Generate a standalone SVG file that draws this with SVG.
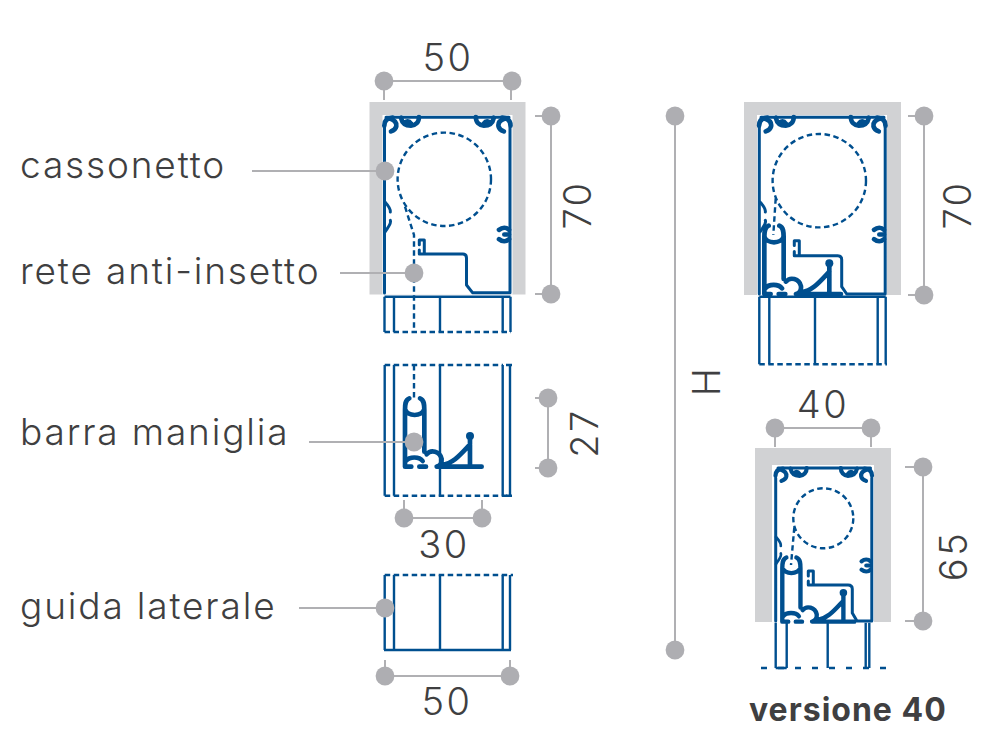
<svg xmlns="http://www.w3.org/2000/svg" xmlns:xlink="http://www.w3.org/1999/xlink" width="1000" height="753" viewBox="0 0 1000 753">
<style>
.t{font-family:"Inter","Liberation Sans",sans-serif;font-weight:300;fill:#3f3f41}
.lab{font-size:37px;letter-spacing:1.85px}
.num{font-size:38px;text-anchor:middle;letter-spacing:2.5px}
.ttl{font-family:"Inter","Liberation Sans",sans-serif;font-weight:700;font-size:32px;fill:#3f3f41;letter-spacing:1px}
.g{fill:#d1d2d4}.w{fill:#fff}
.dim{stroke:#b0b0b3;stroke-width:2;fill:none}
.dot{fill:#aeaeb2}
.b{stroke:#004f8f;stroke-width:3;fill:none;stroke-linejoin:round;stroke-linecap:round}
.bt{stroke:#004f8f;stroke-width:2.400;fill:none;stroke-linecap:butt}
.d{stroke:#004f8f;stroke-width:2.400;fill:none;stroke-dasharray:5.500 3.500}
.z{stroke:#004f8f;stroke-width:14;fill:none;stroke-linejoin:round;stroke-linecap:round}
.zf{fill:#004f8f}
</style>
<defs>
<g id="clip" class="z">
<path d="M0 26C0 10 8 3 25 2M14 4C28 8 38 16 36 28C34 36 28 40 20 43"/>
<path d="M50 2C53 16 62 26 80 26C94 25 104 16 104 0M66 14C72 12 76 14 80 20"/>
</g>
<g id="cclip" class="z">
<path d="M0 -14C-8 -22 -20 -22 -30 -14M0 14C-8 22 -20 22 -30 14M0 0H-14"/>
</g>
<g id="bump" class="z" style="stroke-width:9">
<path d="M0 0C9 10 18 20 16 30M0 90C9 75 20 65 16 55"/>
</g>
<g id="handle">
<path class="z" d="M118 130C105 135 105 150 105 165V335M150 130C163 135 163 150 163 165V290M105 162C112 186 156 186 163 162M105 335H124M108 318C118 304 148 304 158 318M148 335H168M170 298C182 283 210 288 215 312C216 325 210 333 200 335H335M215 330C250 325 270 300 300 268M300 245V335"/>
<circle class="zf" cx="300" cy="243" r="12"/>
</g>
</defs>

<g id="cassonetto-50">
<rect class="g" x="369.500" y="102" width="156" height="192.500"/>
<rect class="w" x="382.500" y="115" width="130" height="179.500"/>
<path class="b" d="M384.500 127V293M386 117.300H509M510 127V292.700H472.500L466.500 285V258Q466.500 254 463 254H419.300V250M424.300 254V240H419.300V244.700"/>
<use href="#clip" transform="translate(384.300,117) scale(.3333)"/>
<use href="#clip" transform="translate(510.500,117) scale(-.3333,.3333)"/>
<use href="#cclip" transform="translate(509,234.500) scale(.3333)"/>
<use href="#bump" transform="translate(385,202) scale(.3333)"/>
<circle class="d" cx="444.300" cy="179.300" r="46.700"/>
<path class="d" d="M405 206.700L414 235V332"/>
</g>

<g id="guida-cassonetto">
<path class="bt" d="M384.500 296.700H510.500M384.500 296.700V332M394 296.700V332M440 296.700V332M502.700 296.700V332M510.500 296.700V332"/>
<path class="d" d="M384.500 332H511"/>
</g>

<g id="barra-maniglia">
<path class="bt" d="M384.700 365V495.700M394 365V495.700M440 365V495.700M502.700 365V495.700M510 365V495.700"/>
<path class="d" d="M384.700 365H503M384.700 495.700H510M414 365V398"/>
<path class="bt" d="M506 365H512M506 495.700H512"/>
<use href="#handle" transform="translate(370,355) scale(.3333)"/>
</g>

<g id="guida-laterale">
<path class="bt" d="M384.700 575V650M394 575V650M440 575V650M502.700 575V650M510 575V650M384 650H511"/>
<path class="d" d="M384.700 575H513"/>
</g>

<g id="cassonetto-70">
<rect class="g" x="744" y="102" width="157" height="193"/>
<rect class="w" x="757" y="115" width="130" height="180"/>
<path class="b" d="M759.300 127V294M761 117.300H884M885.200 127V294H846.700L841.700 286.700V259.700Q841.700 255.700 837.700 255.700H794.300V251.500M799.300 255.700V240.700H794.300V245.500"/>
<use href="#clip" transform="translate(759.100,117) scale(.3333)"/>
<use href="#clip" transform="translate(885.500,117) scale(-.3333,.3333)"/>
<use href="#cclip" transform="translate(884,234.500) scale(.3333)"/>
<use href="#bump" transform="translate(760,202) scale(.3333)"/>
<circle class="d" cx="819.300" cy="180.700" r="46.700"/>
<path class="d" d="M775.700 198.300L773.300 235"/>
<use href="#handle" transform="translate(729.330,182.330) scale(.3333)"/>
<path class="bt" d="M759.300 296.700H885.700M759.300 296.700V364.300M769.300 296.700V364.300M815 296.700V364.300M877.700 296.700V364.300M885.700 296.700V364.300"/>
<path class="d" d="M759.300 364.300H887"/>
</g>

<g id="versione-40">
<rect class="g" x="755" y="448" width="136" height="174"/>
<rect class="w" x="772" y="465" width="102" height="157"/>
<path class="b" d="M775.700 478V621M778 468H870.500M871.800 478V621H857L852.300 613V589Q852.300 585 848 585H808.300V581M813.300 585V571H808.300V576"/>
<use href="#clip" transform="translate(775.500,468) scale(.3)"/>
<use href="#clip" transform="translate(872,468) scale(-.3,.3)"/>
<use href="#cclip" transform="translate(870.500,565.500) scale(.3)"/>
<use href="#bump" transform="translate(776,537) scale(.3)"/>
<circle class="d" cx="823.300" cy="518.300" r="30"/>
<path class="d" d="M794.300 527.300L791 565"/>
<use href="#handle" transform="translate(749.400,516.700) scale(.3133)"/>
<path class="bt" d="M775.700 622.700V668M786.700 622.700V668M827.700 622.700V668M865.700 622.700V668M869.300 622.700V668M775.700 668H786.700"/>
<path class="d" style="stroke-dasharray:6 11" d="M761 668H887"/>
</g>

<g id="connectors">
<path class="dim" d="M384 81H512M384 81V100M511 81V100"/>
<path class="dim" d="M551 116V294M535 116H551M535 294H551"/>
<path class="dim" d="M252 171H385M340 273H414M309 442H414M299 608H385"/>
<path class="dim" d="M548 398V468M535 398H548M535 468H548"/>
<path class="dim" d="M404 518H482M404 500V518M482 500V518"/>
<path class="dim" d="M385 676H510M385 660V676M510 660V676"/>
<path class="dim" d="M675 116V650"/>
<path class="dim" d="M924 116V295M908 116H924M908 295H924"/>
<path class="dim" d="M775 428H871M775 428V447M871 428V447"/>
<path class="dim" d="M923 467V621M905 467H923M905 621H923"/>
</g>
<g id="dots" class="dot">
<circle cx="384" cy="81" r="9.400"/><circle cx="512" cy="81" r="9.400"/>
<circle cx="551" cy="116" r="9.400"/><circle cx="551" cy="294" r="9.400"/>
<circle cx="385" cy="171" r="9.400"/><circle cx="414" cy="273" r="9.400"/><circle cx="414" cy="442" r="9.400"/><circle cx="385" cy="608" r="9.400"/>
<circle cx="548" cy="398" r="9.400"/><circle cx="548" cy="468" r="9.400"/>
<circle cx="404" cy="518" r="9.400"/><circle cx="482" cy="518" r="9.400"/>
<circle cx="385" cy="676" r="9.400"/><circle cx="510" cy="676" r="9.400"/>
<circle cx="675" cy="116" r="9.400"/><circle cx="675" cy="650" r="9.400"/>
<circle cx="924" cy="116" r="9.400"/><circle cx="924" cy="295" r="9.400"/>
<circle cx="775" cy="428" r="9.400"/><circle cx="871" cy="428" r="9.400"/>
<circle cx="923" cy="467" r="9.400"/><circle cx="923" cy="621" r="9.400"/>
</g>

<g id="labels">
<text class="t lab" x="20" y="178">cassonetto</text>
<text class="t lab" x="20" y="284">rete anti-insetto</text>
<text class="t lab" x="20" y="445">barra maniglia</text>
<text class="t lab" x="20" y="619">guida laterale</text>
<text class="t num" x="448" y="71">50</text>
<text class="t num" x="444" y="558">30</text>
<text class="t num" x="447" y="715">50</text>
<text class="t num" x="823" y="418">40</text>
<text class="t num" transform="translate(591,205) rotate(-90)">70</text>
<text class="t num" transform="translate(971,205) rotate(-90)">70</text>
<text class="t num" transform="translate(598,433) rotate(-90)">27</text>
<text class="t num" transform="translate(967,556) rotate(-90)">65</text>
<text class="t num" transform="translate(720,381) rotate(-90)">H</text>
<text class="ttl" x="749" y="721">versione 40</text>
</g>
</svg>
